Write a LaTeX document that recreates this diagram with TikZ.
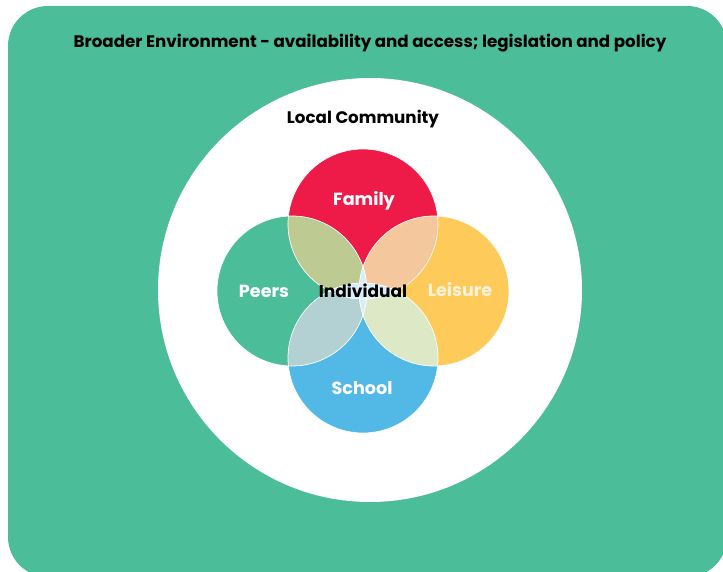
\documentclass[tikz,border=0pt]{standalone}
\usepackage{fontspec}
\setmainfont{Poppins}
\definecolor{envgreen}{HTML}{4BBD98}
\definecolor{famred}{HTML}{EE1A47}
\definecolor{leisyellow}{HTML}{FECB5A}
\definecolor{schblue}{HTML}{52B8E6}
\definecolor{lensolive}{HTML}{BDCB93}
\definecolor{lenspeach}{HTML}{F4C79C}
\definecolor{lensgrey}{HTML}{B3D1D2}
\definecolor{lenslime}{HTML}{DCE8C6}
\definecolor{lenscore}{HTML}{D6EEF8}
\definecolor{leistext}{HTML}{FDF3DC}
\tikzset{
  sphere/.style={shape=circle, minimum size=150pt, inner sep=0pt},
  label/.style={font=\bfseries\fontsize{17.6}{20}\selectfont, white},
}

\begin{document}
\begin{tikzpicture}[x=1pt, y=-1pt]
    \useasboundingbox (0,0) rectangle (723,572);
    \begin{scope}
      \clip (0,0) rectangle (723,572);
      \fill[envgreen, rounded corners=40pt] (8,6) rectangle (727,577);
    \end{scope}
    \node(community)[shape=circle, fill=white, minimum size=424pt] at (370,290) {};

    \node(peers)[sphere, fill=envgreen] at (292,291) {};
    \node(leisure)[sphere, fill=leisyellow] at (434,291) {};
    \node(family)[sphere, fill=famred] at (363,224) {};
    \node(school)[sphere, fill=schblue] at (363,358) {};

    % overlaps
    \begin{scope}
      \clip (family.center) circle (75pt);
      \fill[lensolive] (peers.center) circle (75pt);
      \fill[lenspeach] (leisure.center) circle (75pt);
    \end{scope}
    \begin{scope}
      \clip (school.center) circle (75pt);
      \fill[lensgrey] (peers.center) circle (75pt);
      \fill[lenslime] (leisure.center) circle (75pt);
    \end{scope}
    \begin{scope}
      \clip (family.center) circle (75pt);
      \fill[lenscore] (school.center) circle (75pt);
    \end{scope}
    \begin{scope}
      \clip (peers.center) circle (75pt);
      \fill[lenscore] (leisure.center) circle (75pt);
    \end{scope}
    \foreach \c in {peers, leisure, family, school}
      \draw[white, line width=0.7pt] (\c.center) circle (75pt);

    \node(broader)[font=\bfseries\fontsize{16.7}{20}\selectfont] at (370,43) {Broader Environment - availability and access; legislation and policy};
    \node(local)[font=\bfseries\fontsize{16.7}{20}\selectfont] at (363,119) {Local Community};
    \node(famlabel)[label] at (364,201) {Family};
    \node(peerlabel)[label] at (264,291) {Peers};
    \node(leislabel)[label, leistext] at (460,290) {Leisure};
    \node(schlabel)[label] at (362,388) {School};
    \node(indiv)[label, black, font=\bfseries\fontsize{17}{20}\selectfont] at (363,291) {Individual};
\end{tikzpicture}
\end{document}
